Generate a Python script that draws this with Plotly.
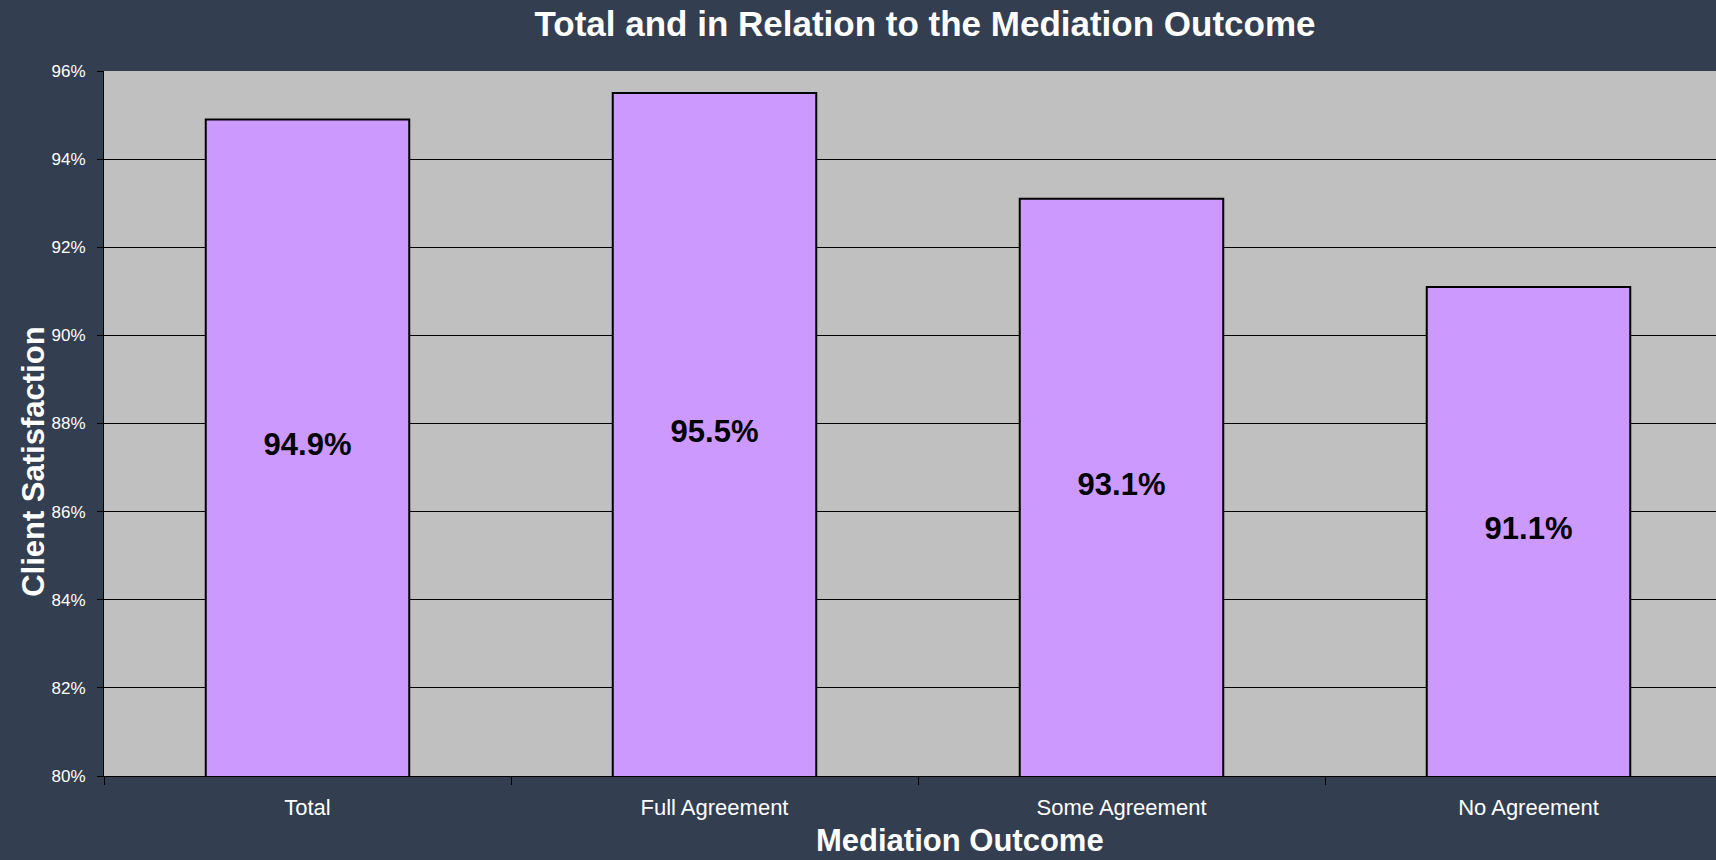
import plotly.graph_objects as go

categories = ["Total", "Full Agreement", "Some Agreement", "No Agreement"]
satisfaction = [94.9, 95.5, 93.1, 91.1]
bar_labels = ["94.9%", "95.5%", "93.1%", "91.1%"]
y_ticks = [80, 82, 84, 86, 88, 90, 92, 94, 96]
y_tick_labels = ["80%", "82%", "84%", "86%", "88%", "90%", "92%", "94%", "96%"]
y_min, y_max = 80, 96

FONT = "Liberation Sans, Arial, sans-serif"
BG = "#333E50"

fig = go.Figure()
fig.add_trace(go.Bar(
    x=categories,
    y=satisfaction,
    marker=dict(color="#CC99FF", line=dict(color="black", width=2)),
    width=0.5,
    hoverinfo="x+y",
))
# value labels centred in the visible part of each bar
fig.add_trace(go.Scatter(
    x=categories,
    y=[(y_min + v) / 2 for v in satisfaction],
    text=bar_labels,
    mode="text",
    textposition="middle center",
    textfont=dict(family=FONT, size=31, color="black", weight="bold"),
    hoverinfo="skip",
))

fig.update_layout(
    width=1716, height=860,
    paper_bgcolor=BG, plot_bgcolor="#C0C0C0",
    margin=dict(l=104, r=0, t=71, b=84),
    showlegend=False,
    title=dict(text="<b>Total and in Relation to the Mediation Outcome</b>",
               x=925 / 1716, xanchor="center", y=1 - 24 / 860, yanchor="middle",
               font=dict(family=FONT, size=35, color="white")),
    annotations=[
        dict(text="<b>Mediation Outcome</b>", xref="paper", yref="paper",
             x=0.531, y=-0.092, xanchor="center", yanchor="middle", showarrow=False,
             font=dict(family=FONT, size=31, color="white")),
        dict(text="<b>Client Satisfaction</b>", xref="paper", yref="paper",
             x=-0.0435, y=0.4454, xanchor="center", yanchor="middle", showarrow=False,
             textangle=-90, font=dict(family=FONT, size=31, color="white")),
    ],
)

fig.update_xaxes(
    range=[-0.5, -0.5 + 1612 / 407],
    showline=True, linecolor="black", linewidth=1,
    ticks="outside", tickson="boundaries", ticklen=8, tickcolor="black",
    ticklabelstandoff=12,
    tickfont=dict(family=FONT, size=22, color="white"),
    showgrid=False,
)

fig.update_yaxes(
    range=[y_min, y_max],
    tickvals=y_ticks, ticktext=y_tick_labels,
    showline=True, linecolor="black", linewidth=1,
    ticks="outside", ticklen=6, tickcolor="black",
    ticklabelstandoff=8,
    tickfont=dict(family=FONT, size=17, color="white"),
    showgrid=True, gridcolor="black", gridwidth=1,
    zeroline=False,
)

fig.write_html("out.html", config={"displayModeBar": False},
               post_script="document.body.style.margin='0';document.body.style.overflow='hidden';")
